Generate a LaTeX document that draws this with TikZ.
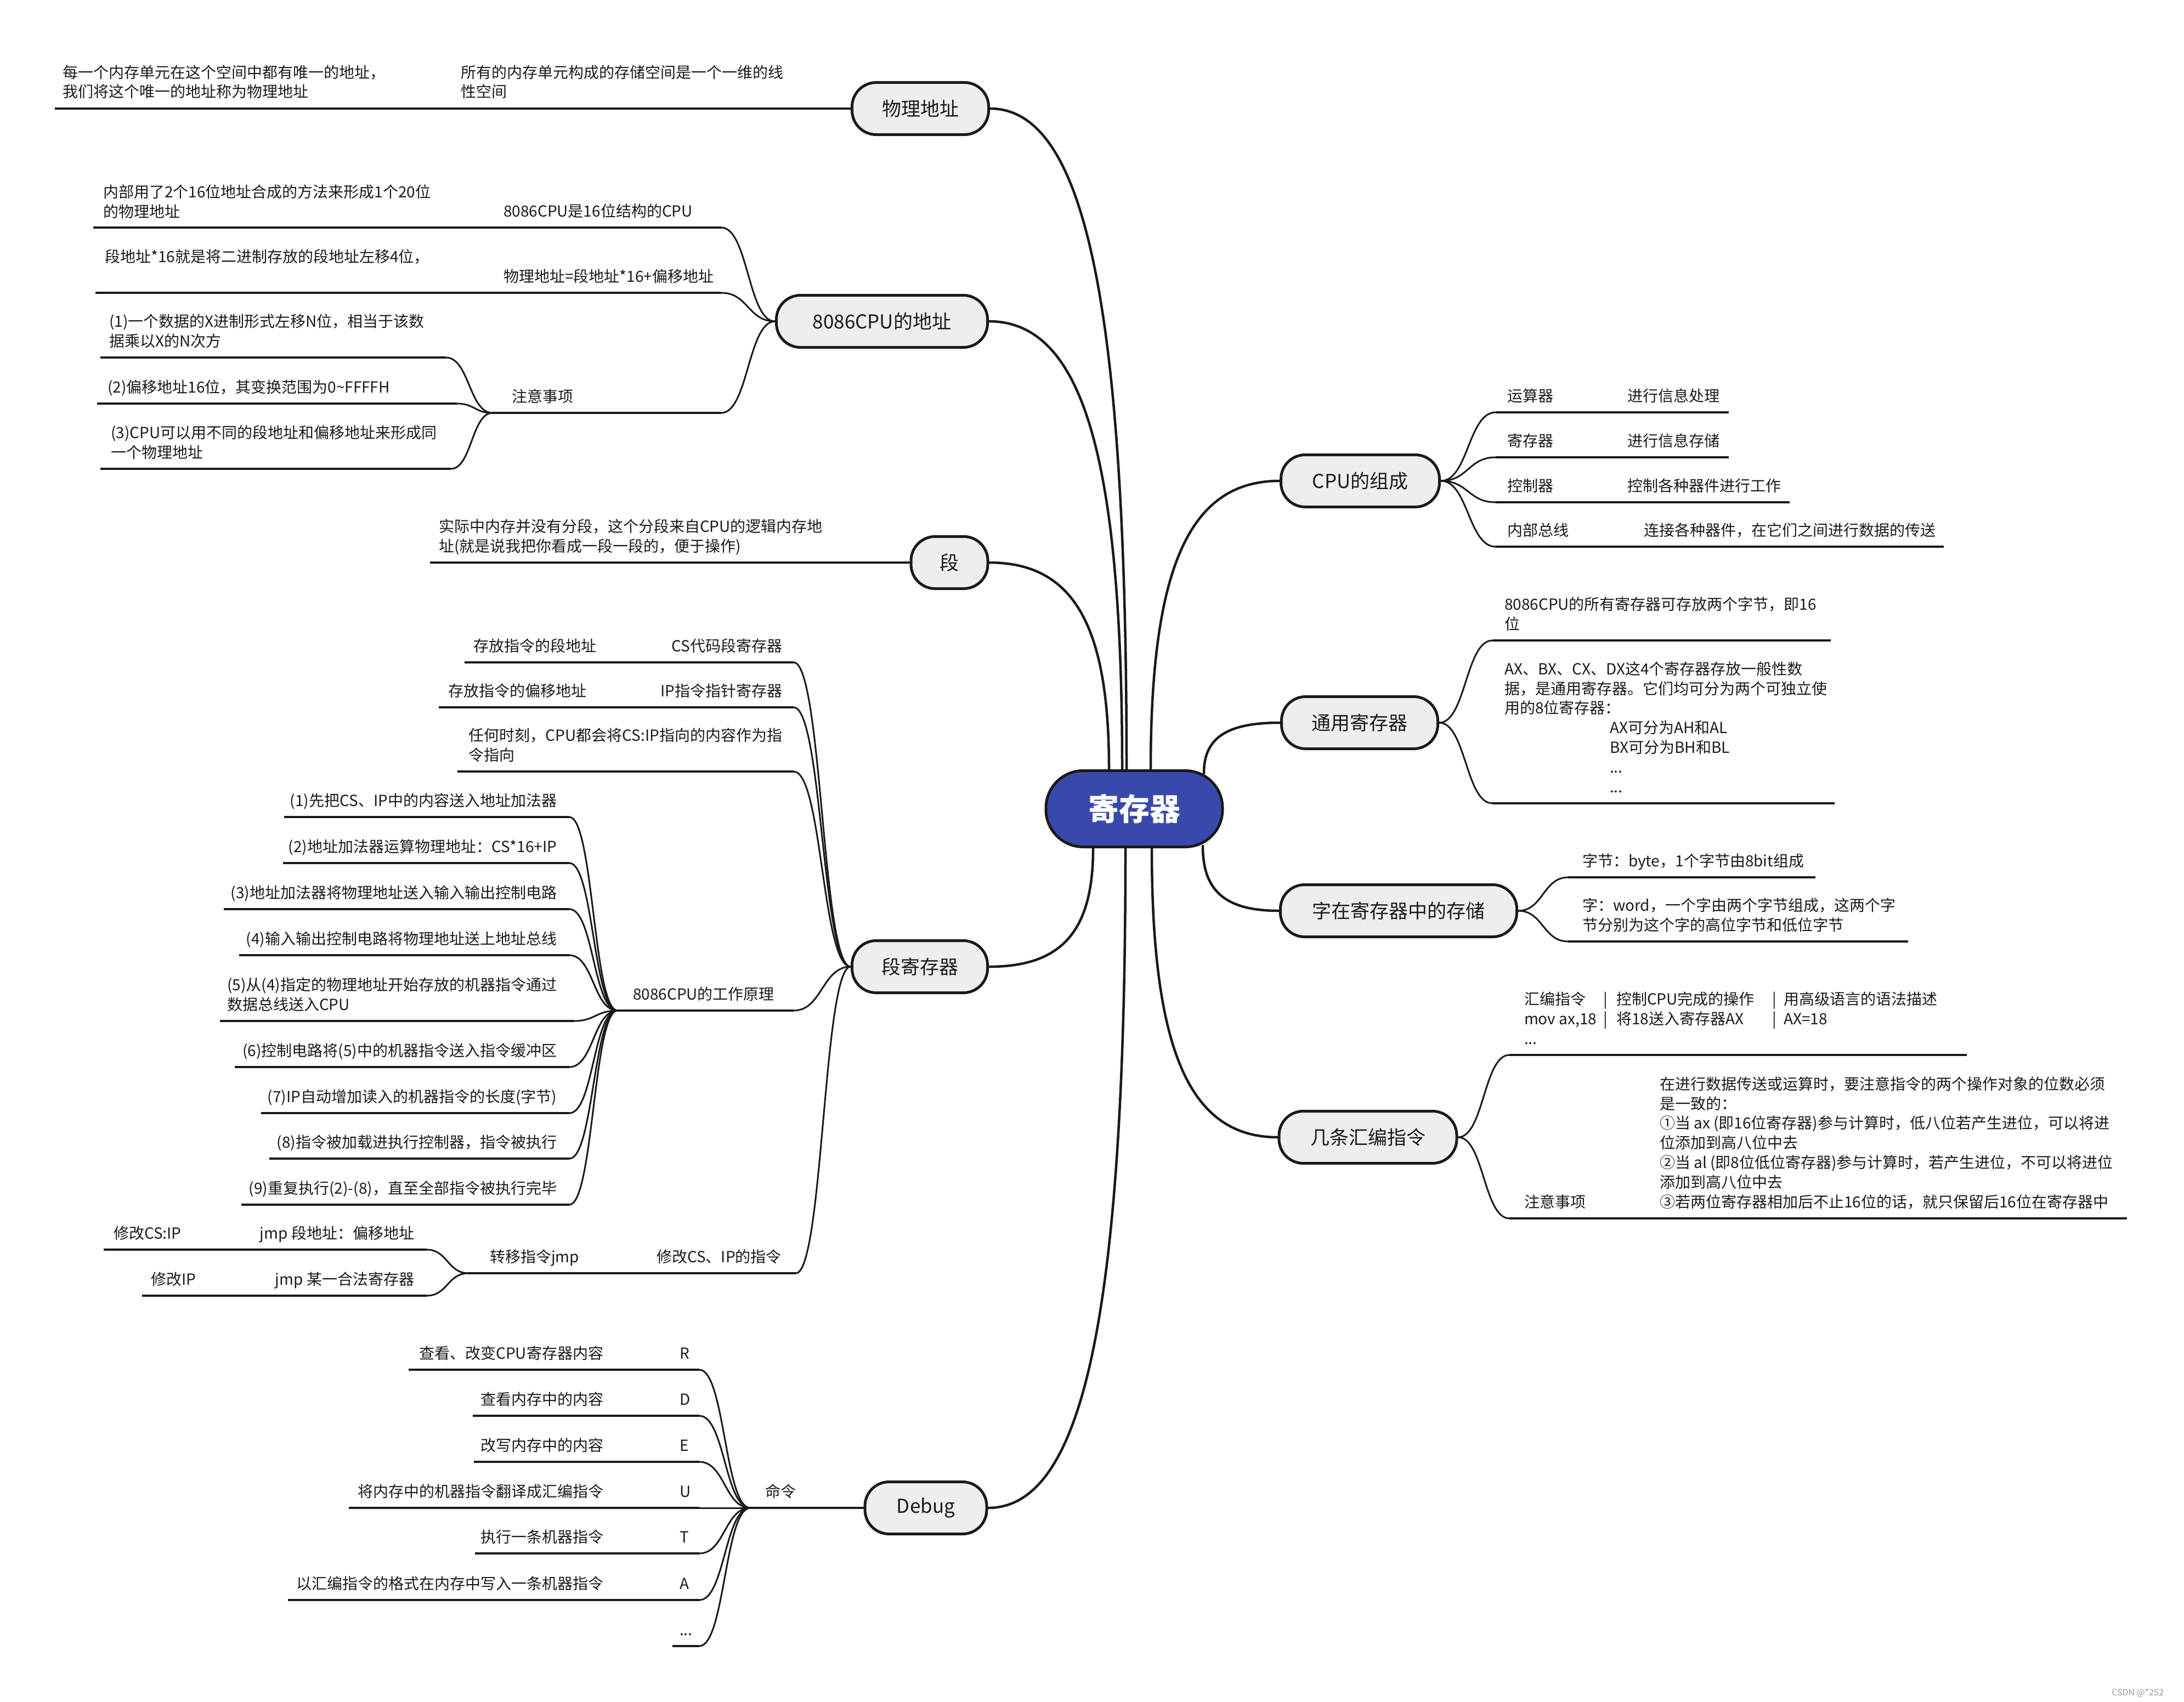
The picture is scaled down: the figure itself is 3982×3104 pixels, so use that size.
\documentclass[tikz,border=0pt]{standalone}
\usepackage{fontspec}
\setmainfont{Noto Sans CJK SC}
\usetikzlibrary{calc,backgrounds}
\definecolor{ln}{HTML}{1A1A1A}
\definecolor{nodefill}{HTML}{EEEEEE}
\definecolor{rootfill}{HTML}{3949AB}
\definecolor{wm}{HTML}{9A9A9A}
\newcommand\blk[1]{\begin{tabular}[b]{@{}l@{}}#1\end{tabular}}
\newcommand\mmhc[2]{\path ($(#1)!0.5!(#2)$) coordinate (hcm);\draw[conn] (#1) .. controls (hcm |- #1) and (hcm |- #2) .. (#2);}
\newcommand\mmvc[2]{\path (#1 |- #2) coordinate (vcc);\draw[mconn] (#1) .. controls ($(#1)!0.7!(vcc)$) and ($(#2)!0.7!(vcc)$) .. (#2);}
\tikzset{
  txt/.style={font=\fontsize{28}{35.8}\selectfont, text=ln, inner sep=0pt, outer sep=0pt},
  tl/.style={txt, anchor=base west},
  tr/.style={txt, anchor=base east},
  mainnode/.style={draw=ln, line width=5pt, fill=nodefill, rounded corners=44pt, minimum height=95pt, inner sep=0pt, font=\fontsize{35}{40}\selectfont, text=ln},
  rootnode/.style={draw=ln, line width=5pt, fill=rootfill, rounded corners=68pt, minimum height=139pt, minimum width=322pt, inner sep=0pt, font=\fontsize{56}{60}\selectfont\bfseries, text=white},
  uline/.style={draw=ln, line width=4pt},
  conn/.style={draw=ln, line width=3pt, line cap=round},
  mconn/.style={draw=ln, line width=4.5pt, line cap=round},
}
\begin{document}
\begin{tikzpicture}[x=1pt,y=1pt]
\useasboundingbox (0,0) rectangle (3982,-3104);
% ---------- nodes ----------
\node[rootnode] (root) at (2068,-1475) {寄存器};
\node[mainnode, minimum width=249pt] (wl) at (1678,-198) {物理地址};
\node[mainnode, minimum width=385pt] (dz) at (1608,-586) {8086CPU的地址};
\node[mainnode, minimum width=140pt] (duan) at (1731,-1026) {段};
\node[mainnode, minimum width=247pt] (djc) at (1677,-1763) {段寄存器};
\node[mainnode, minimum width=222pt] (dbg) at (1688,-2750) {Debug};
\node[mainnode, minimum width=289pt] (cpu) at (2480,-877) {CPU的组成};
\node[mainnode, minimum width=285pt] (ty) at (2479,-1318) {通用寄存器};
\node[mainnode, minimum width=431pt] (zc) at (2550,-1661) {字在寄存器中的存储};
\node[mainnode, minimum width=324pt] (hb) at (2494,-2074) {几条汇编指令};
% root attachment points
\coordinate (r1) at (2054,-1403);
\coordinate (r2) at (2046,-1403);
\coordinate (r3) at (2022,-1403);
\coordinate (r4) at (2098,-1403);
\coordinate (r5) at (2195,-1410);
\coordinate (r6) at (2193,-1543);
\coordinate (r7) at (2100,-1547);
\coordinate (r8) at (2052,-1547);
\coordinate (r9) at (1993,-1547);
% ---------- 物理地址 ----------
\node[tl] (wl1) at (840,-178) {\blk{所有的内存单元构成的存储空间是一个一维的线\\性空间}};
\node[tl] (wl11) at (114,-178) {\blk{每一个内存单元在这个空间中都有唯一的地址，\\我们将这个唯一的地址称为物理地址}};
\coordinate (wl1a) at (820,-198);
\coordinate (wl1b) at (100,-198);
% ---------- 8086CPU的地址 ----------
\node[tl] (dz1) at (918,-395) {8086CPU是16位结构的CPU};
\node[tl] (dz11) at (188,-396) {\blk{内部用了2个16位地址合成的方法来形成1个20位\\的物理地址}};
\coordinate (dz1r) at (1315,-415);
\coordinate (dz1m) at (895,-415);
\coordinate (dz1l) at (170,-415);
\node[tl] (dz2) at (918,-514) {物理地址=段地址*16+偏移地址};
\node[tl] (dz21) at (191,-478) {段地址*16就是将二进制存放的段地址左移4位，};
\coordinate (dz2r) at (1315,-534);
\coordinate (dz2m) at (895,-534);
\coordinate (dz2l) at (174,-534);
\node[tl] (dz3) at (933,-733) {注意事项};
\coordinate (dz3r) at (1315,-753);
\coordinate (dz3l) at (898,-753);
\node[tl] (dz31) at (199,-632) {\blk{(1)一个数据的X进制形式左移N位，相当于该数\\据乘以X的N次方}};
\coordinate (dz31r) at (813,-652);
\coordinate (dz31l) at (183,-652);
\node[tl] (dz32) at (196,-716) {(2)偏移地址16位，其变换范围为0\textasciitilde FFFFH};
\coordinate (dz32r) at (833,-736);
\coordinate (dz32l) at (177,-736);
\node[tl] (dz33) at (202,-835) {\blk{(3)CPU可以用不同的段地址和偏移地址来形成同\\一个物理地址}};
\coordinate (dz33r) at (822,-855);
\coordinate (dz33l) at (183,-855);
% ---------- 段 ----------
\node[tl] (du1) at (800,-1006) {\blk{实际中内存并没有分段，这个分段来自CPU的逻辑内存地\\址(就是说我把你看成一段一段的，便于操作)}};
\coordinate (du1l) at (784,-1026);
% ---------- 段寄存器 ----------
\node[tr] (dj1) at (1426,-1188) {CS代码段寄存器};
\node[tl] (dj11) at (863,-1188) {存放指令的段地址};
\coordinate (dj1r) at (1447,-1208);
\coordinate (dj1m) at (1180,-1208);
\coordinate (dj1l) at (847,-1208);
\node[tr] (dj2) at (1426,-1270) {IP指令指针寄存器};
\node[tl] (dj21) at (817,-1270) {存放指令的偏移地址};
\coordinate (dj2r) at (1447,-1290);
\coordinate (dj2m) at (1180,-1290);
\coordinate (dj2l) at (800,-1290);
\node[tr] (dj3) at (1426,-1387) {\blk{任何时刻，CPU都会将CS:IP指向的内容作为指\\令指向}};
\coordinate (dj3r) at (1447,-1407);
\coordinate (dj3l) at (834,-1407);
\node[tl] (dj4) at (1154,-1823) {8086CPU的工作原理};
\coordinate (dj4r) at (1447,-1843);
\coordinate (dj4l) at (1126,-1843);
\node[tr] (w1) at (1015,-1470) {(1)先把CS、IP中的内容送入地址加法器};
\node[tr] (w2) at (1015,-1554) {(2)地址加法器运算物理地址：CS*16+IP};
\node[tr] (w3) at (1015,-1638) {(3)地址加法器将物理地址送入输入输出控制电路};
\node[tr] (w4) at (1015,-1722) {(4)输入输出控制电路将物理地址送上地址总线};
\node[tr] (w5) at (1015,-1842) {\blk{(5)从(4)指定的物理地址开始存放的机器指令通过\\数据总线送入CPU}};
\node[tr] (w6) at (1015,-1926) {(6)控制电路将(5)中的机器指令送入指令缓冲区};
\node[tr] (w7) at (1015,-2010) {(7)IP自动增加读入的机器指令的长度(字节)};
\node[tr] (w8) at (1015,-2093) {(8)指令被加载进执行控制器，指令被执行};
\node[tr] (w9) at (1015,-2177) {(9)重复执行(2)-(8)，直至全部指令被执行完毕};
\coordinate (w1r) at (1038,-1490); \coordinate (w1l) at (518,-1490);
\coordinate (w2r) at (1038,-1574); \coordinate (w2l) at (516,-1574);
\coordinate (w3r) at (1038,-1658); \coordinate (w3l) at (408,-1658);
\coordinate (w4r) at (1038,-1742); \coordinate (w4l) at (436,-1742);
\coordinate (w5r) at (1046,-1862); \coordinate (w5l) at (401,-1862);
\coordinate (w6r) at (1038,-1946); \coordinate (w6l) at (428,-1946);
\coordinate (w7r) at (1038,-2030); \coordinate (w7l) at (476,-2030);
\coordinate (w8r) at (1038,-2113); \coordinate (w8l) at (491,-2113);
\coordinate (w9r) at (1038,-2197); \coordinate (w9l) at (440,-2197);
\node[tl] (dj5) at (1197,-2302) {修改CS、IP的指令};
\coordinate (dj5r) at (1451,-2322);
\coordinate (dj5m) at (1180,-2322);
\node[tl] (dj51) at (893,-2302) {转移指令jmp};
\coordinate (dj51l) at (854,-2322);
\node[tr] (dj511) at (755,-2259) {jmp 段地址：偏移地址};
\node[tl] (dj5111) at (207,-2259) {修改CS:IP};
\coordinate (dj511r) at (778,-2279);
\coordinate (dj511m) at (440,-2279);
\coordinate (dj511l) at (189,-2279);
\node[tr] (dj512) at (755,-2343) {jmp 某一合法寄存器};
\node[tl] (dj5121) at (275,-2343) {修改IP};
\coordinate (dj512r) at (778,-2363);
\coordinate (dj512m) at (440,-2363);
\coordinate (dj512l) at (259,-2363);
% ---------- Debug ----------
\node[tl] (cmd) at (1395,-2730) {命令};
\coordinate (cmdl) at (1368,-2750);
\node[tl] (kR) at (1239,-2478) {R};
\node[tl] (kD) at (1239,-2562) {D};
\node[tl] (kE) at (1239,-2646) {E};
\node[tl] (kU) at (1239,-2730) {U};
\node[tl] (kT) at (1239,-2813) {T};
\node[tl] (kA) at (1239,-2898) {A};
\node[tl] (kX) at (1239,-2982) {...};
\node[tr] (kR1) at (1100,-2478) {查看、改变CPU寄存器内容};
\node[tr] (kD1) at (1100,-2562) {查看内存中的内容};
\node[tr] (kE1) at (1100,-2646) {改写内存中的内容};
\node[tr] (kU1) at (1100,-2730) {将内存中的机器指令翻译成汇编指令};
\node[tr] (kT1) at (1100,-2813) {执行一条机器指令};
\node[tr] (kA1) at (1100,-2898) {以汇编指令的格式在内存中写入一条机器指令};
\coordinate (kRr) at (1275,-2498); \coordinate (kRm) at (1226,-2498); \coordinate (kRl) at (745,-2498);
\coordinate (kDr) at (1275,-2582); \coordinate (kDm) at (1226,-2582); \coordinate (kDl) at (862,-2582);
\coordinate (kEr) at (1275,-2666); \coordinate (kEm) at (1226,-2666); \coordinate (kEl) at (864,-2666);
\coordinate (kUr) at (1275,-2750); \coordinate (kUm) at (1226,-2750); \coordinate (kUl) at (636,-2750);
\coordinate (kTr) at (1275,-2833); \coordinate (kTm) at (1226,-2833); \coordinate (kTl) at (866,-2833);
\coordinate (kAr) at (1275,-2918); \coordinate (kAm) at (1226,-2918); \coordinate (kAl) at (525,-2918);
\coordinate (kXr) at (1275,-3002); \coordinate (kXm) at (1226,-3002);
% ---------- CPU的组成 ----------
\node[tl] (c1) at (2748,-732) {运算器};
\node[tl] (c11) at (2967,-732) {进行信息处理};
\node[tl] (c2) at (2748,-814) {寄存器};
\node[tl] (c21) at (2967,-814) {进行信息存储};
\node[tl] (c3) at (2748,-896) {控制器};
\node[tl] (c31) at (2967,-896) {控制各种器件进行工作};
\node[tl] (c4) at (2748,-977) {内部总线};
\node[tl] (c41) at (2997,-977) {连接各种器件，在它们之间进行数据的传送};
\coordinate (c1l) at (2727,-752); \coordinate (c1m) at (2945,-752); \coordinate (c1r) at (3152,-752);
\coordinate (c2l) at (2727,-834); \coordinate (c2m) at (2945,-834); \coordinate (c2r) at (3152,-834);
\coordinate (c3l) at (2727,-916); \coordinate (c3m) at (2945,-916); \coordinate (c3r) at (3263,-916);
\coordinate (c4l) at (2727,-997); \coordinate (c4m) at (2975,-997); \coordinate (c4r) at (3544,-997);
% ---------- 通用寄存器 ----------
\node[tl] (t1) at (2743,-1148) {\blk{8086CPU的所有寄存器可存放两个字节，即16\\位}};
\coordinate (t1l) at (2721,-1168); \coordinate (t1r) at (3338,-1168);
\node[tl] (t2) at (2743,-1445) {\blk{AX、BX、CX、DX这4个寄存器存放一般性数\\据，是通用寄存器。它们均可分为两个可独立使\\用的8位寄存器：\\\hspace*{192pt}AX可分为AH和AL\\\hspace*{192pt}BX可分为BH和BL\\\hspace*{192pt}...\\\hspace*{192pt}...}};
\coordinate (t2l) at (2721,-1465); \coordinate (t2r) at (3345,-1465);
% ---------- 字在寄存器中的存储 ----------
\node[tl] (z1) at (2885,-1580) {字节：byte，1个字节由8bit组成};
\coordinate (z1l) at (2859,-1600); \coordinate (z1r) at (3310,-1600);
\node[tl] (z2) at (2885,-1697) {\blk{字：word，一个字由两个字节组成，这两个字\\节分别为这个字的高位字节和低位字节}};
\coordinate (z2l) at (2859,-1717); \coordinate (z2r) at (3479,-1717);
% ---------- 几条汇编指令 ----------
\node[tl] (h1) at (2779,-1904) {\blk{\makebox[144pt][l]{汇编指令}\makebox[24pt][l]{|}\makebox[284pt][l]{控制CPU完成的操作}\makebox[21pt][l]{|}用高级语言的语法描述\\\makebox[144pt][l]{mov ax,18}\makebox[24pt][l]{|}\makebox[284pt][l]{将18送入寄存器AX}\makebox[21pt][l]{|}AX=18\\...}};
\coordinate (h1l) at (2752,-1924); \coordinate (h1r) at (3586,-1924);
\node[tl] (h2) at (2779,-2202) {注意事项};
\node[tl] (h21) at (3026,-2202) {\blk{在进行数据传送或运算时，要注意指令的两个操作对象的位数必须\\是一致的：\\①当 ax (即16位寄存器)参与计算时，低八位若产生进位，可以将进\\位添加到高八位中去\\②当 al (即8位低位寄存器)参与计算时，若产生进位，不可以将进位\\添加到高八位中去\\③若两位寄存器相加后不止16位的话，就只保留后16位在寄存器中}};
\coordinate (h2l) at (2752,-2222); \coordinate (h2m) at (3005,-2222); \coordinate (h2r) at (3878,-2222);
% watermark
\node[anchor=base west, inner sep=0pt, font=\fontsize{16}{18}\selectfont, text=wm] (wmk) at (3850,-3092) {CSDN @*252};
% ---------- connectors ----------
\begin{pgfonlayer}{background}
\fill[white] (0,0) rectangle (3982,-3104);
% root to main
\mmvc{r1}{wl.east}
\mmvc{r2}{dz.east}
\mmvc{r3}{duan.east}
\mmvc{r4}{cpu.west}
\mmvc{r5}{ty.west}
\mmvc{r6}{zc.west}
\mmvc{r7}{hb.west}
\mmvc{r8}{dbg.east}
\mmvc{r9}{djc.east}
% 物理地址
\draw[uline] (wl.west) -- (wl1a);
\draw[uline] (wl1a) -- (wl1b);
% 8086CPU的地址
\mmhc{dz.west}{dz1r}
\draw[uline] (dz1r) -- (dz1m);
\draw[uline] (dz1m) -- (dz1l);
\mmhc{dz.west}{dz2r}
\draw[uline] (dz2r) -- (dz2m);
\draw[uline] (dz2m) -- (dz2l);
\mmhc{dz.west}{dz3r}
\draw[uline] (dz3r) -- (dz3l);
\mmhc{dz3l}{dz31r}
\draw[uline] (dz31r) -- (dz31l);
\mmhc{dz3l}{dz32r}
\draw[uline] (dz32r) -- (dz32l);
\mmhc{dz3l}{dz33r}
\draw[uline] (dz33r) -- (dz33l);
% 段
\draw[uline] (duan.west) -- (du1l);
% 段寄存器
\mmhc{djc.west}{dj1r}
\draw[uline] (dj1r) -- (dj1m);
\draw[uline] (dj1m) -- (dj1l);
\mmhc{djc.west}{dj2r}
\draw[uline] (dj2r) -- (dj2m);
\draw[uline] (dj2m) -- (dj2l);
\mmhc{djc.west}{dj3r}
\draw[uline] (dj3r) -- (dj3l);
\mmhc{djc.west}{dj4r}
\draw[uline] (dj4r) -- (dj4l);
\foreach \k in {1,...,9}{
  \mmhc{dj4l}{w\k r}
  \draw[uline] (w\k r) -- (w\k l);
}
\mmhc{djc.west}{dj5r}
\draw[uline] (dj5r) -- (dj5m);
\draw[uline] (dj5m) -- (dj51l);
\mmhc{dj51l}{dj511r}
\draw[uline] (dj511r) -- (dj511m);
\draw[uline] (dj511m) -- (dj511l);
\mmhc{dj51l}{dj512r}
\draw[uline] (dj512r) -- (dj512m);
\draw[uline] (dj512m) -- (dj512l);
% Debug
\draw[uline] (dbg.west) -- (cmdl);
\foreach \k in {R,D,E,U,T,A}{
  \mmhc{cmdl}{k\k r}
  \draw[uline] (k\k r) -- (k\k m);
  \draw[uline] (k\k m) -- (k\k l);
}
\mmhc{cmdl}{kXr}
\draw[uline] (kXr) -- (kXm);
% CPU的组成
\foreach \k in {1,2,3,4}{
  \mmhc{cpu.east}{c\k l}
  \draw[uline] (c\k l) -- (c\k m);
  \draw[uline] (c\k m) -- (c\k r);
}
% 通用寄存器
\mmhc{ty.east}{t1l}
\draw[uline] (t1l) -- (t1r);
\mmhc{ty.east}{t2l}
\draw[uline] (t2l) -- (t2r);
% 字在寄存器中的存储
\mmhc{zc.east}{z1l}
\draw[uline] (z1l) -- (z1r);
\mmhc{zc.east}{z2l}
\draw[uline] (z2l) -- (z2r);
% 几条汇编指令
\mmhc{hb.east}{h1l}
\draw[uline] (h1l) -- (h1r);
\mmhc{hb.east}{h2l}
\draw[uline] (h2l) -- (h2m);
\draw[uline] (h2m) -- (h2r);
\end{pgfonlayer}
\end{tikzpicture}
\end{document}
